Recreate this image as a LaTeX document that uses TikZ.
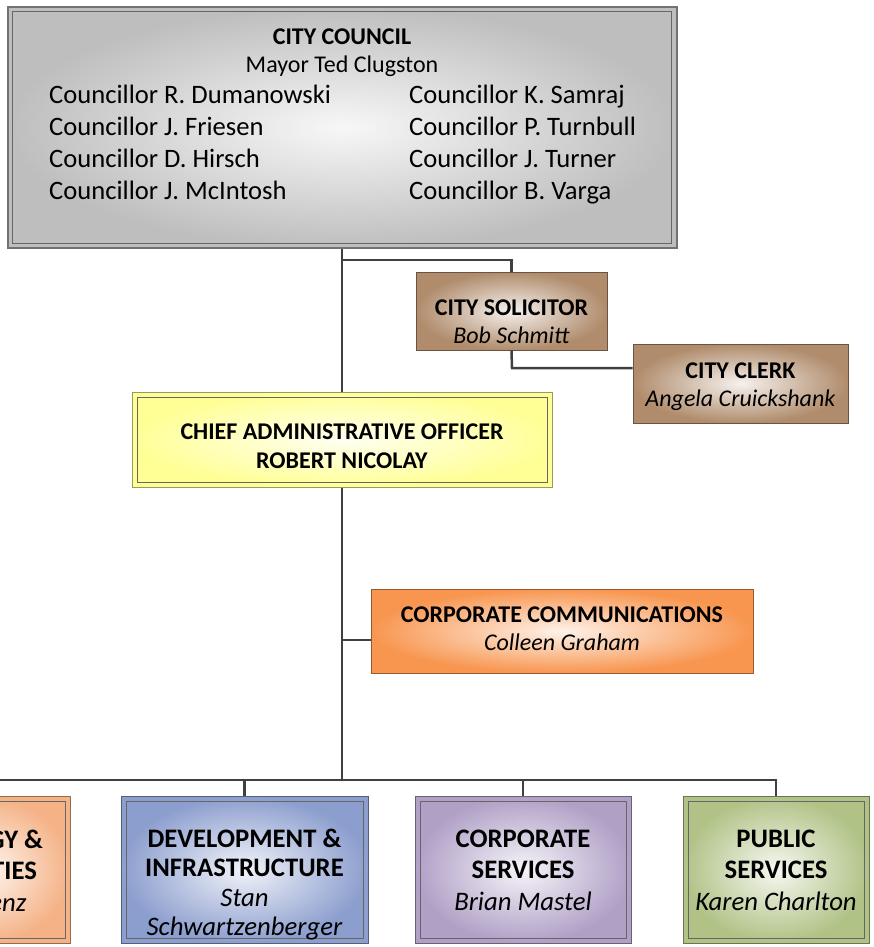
\documentclass[tikz,border=0pt]{standalone}
\usepackage{fontspec}
\setmainfont{Carlito}
\definecolor{cgray}{RGB}{190,190,190}
\definecolor{cbrown}{RGB}{176,140,108}
\definecolor{cyellow}{RGB}{255,255,150}
\definecolor{corange}{RGB}{248,150,80}
\definecolor{cpeach}{RGB}{244,178,134}
\definecolor{cblue}{RGB}{140,158,206}
\definecolor{clav}{RGB}{176,160,198}
\definecolor{cgreen}{RGB}{176,194,134}
\definecolor{linkgray}{RGB}{64,64,64}
\tikzset{
  orgbox/.style= {draw=#1!60!black, line width=1pt, inner sep=0, outer color=#1, inner color=#1!12!white},
  inset/.style= {path picture={\draw[line width=1pt, black!60]
      ([xshift=5pt,yshift=-5pt]path picture bounding box.north west) rectangle ([xshift=-5pt,yshift=5pt]path picture bounding box.south east);}},
  headtext/.style= {inner sep=0, anchor=north, align=center, font=\fontsize{24}{28.5}\selectfont},
  bigtext/.style= {inner sep=0, anchor=north, align=center, font=\fontsize{26.7}{31.5}\selectfont},
  rowtext/.style= {inner sep=0, anchor=base west, font=\fontsize{26.6}{32}\selectfont},
  link/.style= {draw=linkgray, line width=2.5pt},
}
\begin{document}
\begin{tikzpicture}[x=1pt, y=-1pt]
  \useasboundingbox (0,0) rectangle (873,947);
  \clip (0,0) rectangle (873,947);
  \fill[white] (0,0) rectangle (873,947);

  % council
  \node [orgbox=cgray, line width=2pt, inset, minimum width=669pt, minimum height=241pt] (council) at (342,127.5) {};
  \node [headtext] (counciltitle) at (342,28.5) {\textbf{CITY COUNCIL}\\Mayor Ted Clugston};
  \foreach \lname/\rname [count=\i] in {R. Dumanowski/K. Samraj, J. Friesen/P. Turnbull,
      D. Hirsch/J. Turner, J. McIntosh/B. Varga} {
    \node [rowtext] (left\i) at (49,71.4+32*\i) {Councillor \lname};
    \node [rowtext] (right\i) at (409,71.4+32*\i) {Councillor \rname};
  }

  % solicitor and clerk
  \node [orgbox=cbrown, minimum width=191pt, minimum height=78pt] (sol) at (511.5,311) {};
  \node [headtext] (soltext) at (511.5,299.4) {\textbf{CITY SOLICITOR}\\\textit{Bob Schmitt}};
  \node [orgbox=cbrown, minimum width=215pt, minimum height=79pt] (clerk) at (740.5,383.5) {};
  \node [headtext] (clerktext) at (740.5,362.4) {\textbf{CITY CLERK}\\\textit{Angela Cruickshank}};

  % cao
  \node [orgbox=cyellow, inset, minimum width=420pt, minimum height=95pt] (cao) at (342,439.5) {};
  \node [headtext, font=\fontsize{24}{29}\selectfont] (caotext) at (342,423.4) {\textbf{CHIEF ADMINISTRATIVE OFFICER}\\\textbf{ROBERT NICOLAY}};

  % communications
  \node [orgbox=corange, minimum width=382pt, minimum height=84pt] (comm) at (562,631) {};
  \node [headtext] (commtext) at (562,606.4) {\textbf{CORPORATE COMMUNICATIONS}\\\textit{Colleen Graham}};

  % departments
  \node [orgbox=cpeach, inset, minimum width=168pt, minimum height=147pt] (eu) at (-14,869.5) {};
  \node [bigtext] (eutext) at (-14,829.6) {\textbf{\hphantom{ENER}GY \&}\\\textbf{\hphantom{UTILI}TIES}\\\textit{\hspace*{44pt}enz}};
  \node [orgbox=cblue, inset, minimum width=247pt, minimum height=147pt] (dev) at (244.5,869.5) {};
  \node [bigtext, font=\fontsize{26.7}{29.5}\selectfont] (devtext) at (244.5,828.6) {\textbf{DEVELOPMENT \&}\\\textbf{INFRASTRUCTURE}\\\textit{Stan}\\\textit{Schwartzenberger}};
  \node [orgbox=clav, inset, minimum width=216pt, minimum height=147pt] (corp) at (523,869.5) {};
  \node [bigtext] (corptext) at (523,829.6) {\textbf{CORPORATE}\\\textbf{SERVICES}\\\textit{Brian Mastel}};
  \node [orgbox=cgreen, inset, minimum width=186pt, minimum height=147pt] (pub) at (776,869.5) {};
  \node [bigtext] (pubtext) at (776,829.6) {\textbf{PUBLIC}\\\textbf{SERVICES}\\\textit{Karen Charlton}};

  % connectors
  \coordinate (solfork) at (342,260);
  \coordinate (clerkjoin) at (512,368);
  \coordinate (commfork) at (342,640);
  \coordinate (bus) at (342,780);
  \draw [link] (council.south) -- (cao.north);
  \draw [link] (solfork) -| (sol.north);
  \draw [link] (sol.south) -- (clerkjoin) -- (clerkjoin -| clerk.west);
  \draw [link] (cao.south) -- (bus);
  \draw [link] (commfork) -- (commfork -| comm.west);
  \foreach \dept in {eu, dev, corp, pub}
    \draw [link] (bus) -| (\dept.north);
\end{tikzpicture}
\end{document}
